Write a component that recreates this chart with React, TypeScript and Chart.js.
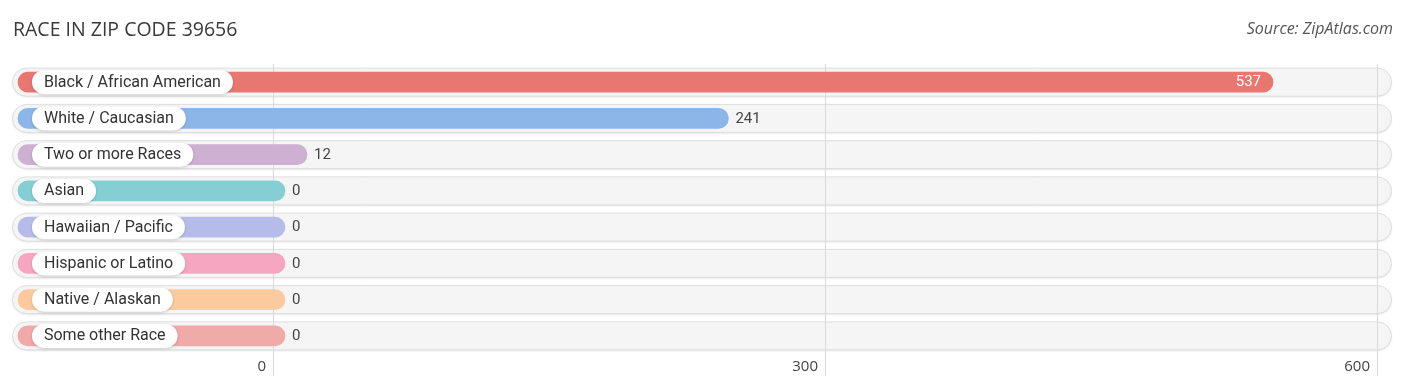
import React, { useEffect, useRef } from "react";
import { Chart, registerables } from "chart.js";

Chart.register(...registerables);

const TITLE = "RACE IN ZIP CODE 39656";
const SOURCE = "Source: ZipAtlas.com";

const categories = [
  "Black / African American",
  "White / Caucasian",
  "Two or more Races",
  "Asian",
  "Hawaiian / Pacific",
  "Hispanic or Latino",
  "Native / Alaskan",
  "Some other Race",
];
const values = [537, 241, 12, 0, 0, 0, 0, 0];
const barColors = [
  "#e8776f",
  "#8bb6e7",
  "#cdb0d2",
  "#84ced4",
  "#b5bcea",
  "#f7a6c1",
  "#fbcb9f",
  "#f0aaa8",
];
const tickValues = [0, 300, 600];
const tickLabels = ["0", "300", "600"];

const X_MIN = -141.85;
const X_MAX = 608.15;
const BAR_START = -138.6;
const END_PAD = 6.5;

const W = 1406;
const H = 391;

function roundRect(ctx: CanvasRenderingContext2D, x: number, y: number, w: number, h: number, r: number) {
  ctx.beginPath();
  ctx.moveTo(x + r, y);
  ctx.lineTo(x + w - r, y);
  ctx.arc(x + w - r, y + r, r, -Math.PI / 2, Math.PI / 2);
  ctx.lineTo(x + r, y + h);
  ctx.arc(x + r, y + r, r, Math.PI / 2, (3 * Math.PI) / 2);
  ctx.closePath();
}

const decorPlugin = {
  id: "decor",
  beforeDraw(chart: any) {
    const ctx: CanvasRenderingContext2D = chart.ctx;
    const { left, right } = chart.chartArea;
    const yScale = chart.scales.y;
    ctx.save();
    categories.forEach((_, i) => {
      const yc = yScale.getPixelForValue(i);
      const h = 28;
      ctx.save();
      ctx.shadowColor = "rgba(0,0,0,0.12)";
      ctx.shadowBlur = 2;
      ctx.shadowOffsetY = 1;
      roundRect(ctx, left + 0.5, yc - h / 2, right - left - 1, h, h / 2);
      ctx.fillStyle = "#f5f5f5";
      ctx.fill();
      ctx.restore();
      roundRect(ctx, left + 0.5, yc - h / 2, right - left - 1, h, h / 2);
      ctx.strokeStyle = "#dedede";
      ctx.lineWidth = 1;
      ctx.stroke();
    });
    ctx.restore();
  },
  afterDatasetsDraw(chart: any) {
    const ctx: CanvasRenderingContext2D = chart.ctx;
    const xScale = chart.scales.x;
    const yScale = chart.scales.y;
    const maxVal = Math.max(...values);
    ctx.save();
    categories.forEach((label, i) => {
      const yc = yScale.getPixelForValue(i);
      const startPx = xScale.getPixelForValue(BAR_START);
      ctx.font = "16px Roboto";
      const tw = ctx.measureText(label).width;
      const px = startPx + 14;
      const ph = 24;
      ctx.save();
      ctx.shadowColor = "rgba(0,0,0,0.18)";
      ctx.shadowBlur = 3;
      ctx.shadowOffsetY = 1;
      roundRect(ctx, px, yc - ph / 2, tw + 24, ph, ph / 2);
      ctx.fillStyle = "#ffffff";
      ctx.fill();
      ctx.restore();
      ctx.fillStyle = "#333333";
      ctx.textBaseline = "middle";
      ctx.textAlign = "left";
      ctx.fillText(label, px + 12, yc + 0.5);

      const v = values[i];
      const endPx = xScale.getPixelForValue(v + END_PAD);
      ctx.font = "15px Roboto";
      if (v / maxVal > 0.9) {
        ctx.fillStyle = "#ffffff";
        ctx.textAlign = "right";
        ctx.fillText(String(v), endPx - 12, yc + 0.5);
      } else {
        ctx.fillStyle = "#444444";
        ctx.textAlign = "left";
        ctx.fillText(String(v), endPx + 7, yc + 0.5);
      }
    });
    ctx.restore();
  },
  afterDraw(chart: any) {
    const ctx: CanvasRenderingContext2D = chart.ctx;
    const xScale = chart.scales.x;
    const bottom = chart.chartArea.bottom;
    ctx.save();
    ctx.fillStyle = "#444444";
    ctx.font = "15px 'Open Sans'";
    ctx.textAlign = "right";
    ctx.textBaseline = "middle";
    tickValues.forEach((v, i) => {
      ctx.fillText(tickLabels[i], xScale.getPixelForValue(v) - 7, bottom + 13);
    });
    ctx.fillStyle = "#3a3a3a";
    ctx.font = "19.5px 'Open Sans'";
    ctx.textAlign = "left";
    ctx.textBaseline = "alphabetic";
    ctx.fillText(TITLE, 13, 36);
    ctx.fillStyle = "#555555";
    ctx.font = "italic 16px 'Open Sans'";
    ctx.textAlign = "right";
    ctx.fillText(SOURCE, 1393, 34);
    ctx.restore();
  },
};

export default function App() {
  const ref = useRef<HTMLCanvasElement | null>(null);
  useEffect(() => {
    if (!ref.current) return;
    const chart = new Chart(ref.current, {
      type: "bar",
      data: {
        labels: categories,
        datasets: [
          {
            data: values.map((v) => [BAR_START, v + END_PAD]) as any,
            backgroundColor: barColors,
            borderSkipped: false,
            borderRadius: 10,
            barThickness: 20,
          },
        ],
      },
      options: {
        indexAxis: "y",
        responsive: false,
        animation: false,
        devicePixelRatio: 1,
        layout: { padding: { left: 12, right: 14, top: 64, bottom: 15 } },
        plugins: {
          legend: { display: false },
          tooltip: { enabled: false },
          title: { display: false },
        },
        scales: {
          x: {
            type: "linear",
            min: X_MIN,
            max: X_MAX,
            afterBuildTicks: (scale: any) => {
              scale.ticks = tickValues.map((v) => ({ value: v }));
            },
            grid: {
              color: "#d9d9d9",
              lineWidth: 1,
              drawTicks: true,
              tickLength: 22,
              tickColor: "#d9d9d9",
            },
            border: { display: false },
            ticks: { display: false },
          },
          y: {
            type: "category",
            display: false,
            offset: true,
          },
        },
      },
      plugins: [decorPlugin],
    });
    return () => chart.destroy();
  }, []);
  return (
    <div style={{ position: "absolute", left: 0, top: 0, width: W, height: H, background: "#fff" }}>
      <canvas ref={ref} width={W} height={H} style={{ width: W, height: H, display: "block" }} />
    </div>
  );
}
